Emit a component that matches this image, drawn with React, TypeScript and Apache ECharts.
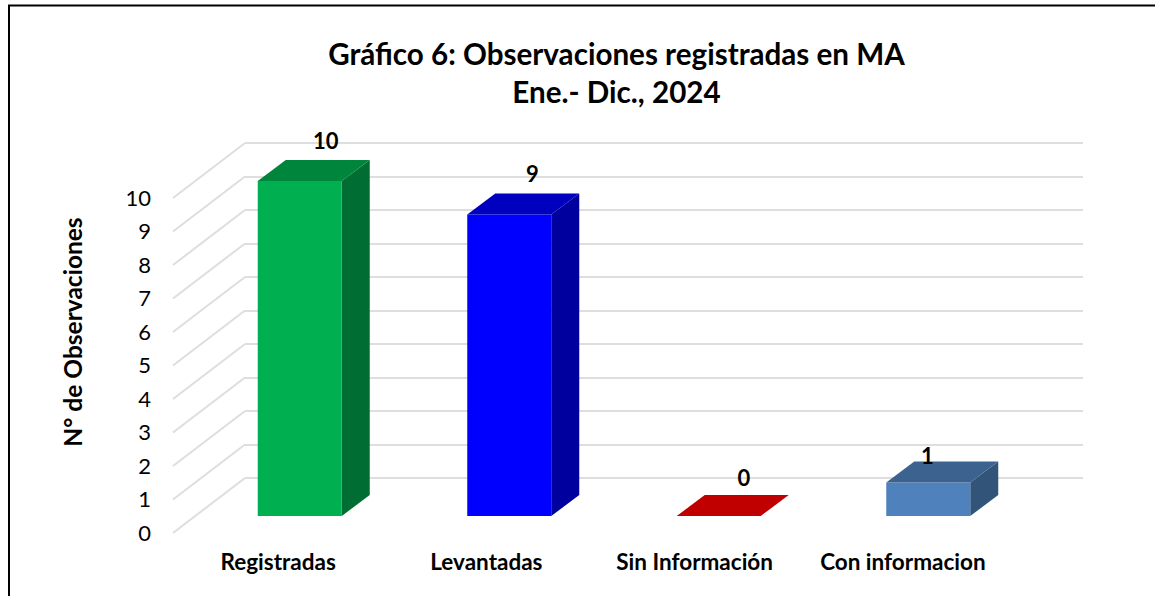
import React, { useEffect, useRef } from "react";
import * as echarts from "echarts";

const titleLines = ["Gráfico 6: Observaciones registradas en MA", "Ene.- Dic., 2024"];
const yAxisName = "N° de Observaciones";
const categories = ["Registradas", "Levantadas", "Sin Información", "Con informacion"];
const values = [10, 9, 0, 1];
const ticks = [0, 1, 2, 3, 4, 5, 6, 7, 8, 9, 10];
const frontColors = ["#00B050", "#0000FF", "#C00000", "#4F81BD"];
const topColors = ["#00853C", "#0000BF", "#C00000", "#3C6290"];
const sideColors = ["#006E33", "#00009F", "#A00000", "#325478"];
const labelShift = [[-24, -3], [-27, -3], [-25, -1], [-51, 11]];

const FONT = "Lato";
const W = 1155;
const H = 596;
const BAR_W = 84;
const FRONT_DX = -50;
const FRONT_DY = 38;
const DEPTH_X = 28;
const DEPTH_Y = 21;
const FLOOR_DX = -72;
const FLOOR_DY = 55;

export default function App() {
  const ref = useRef<HTMLDivElement>(null);
  useEffect(() => {
    const chart = echarts.init(ref.current!, undefined, { renderer: "svg" });
    chart.setOption({
      animation: false,
      backgroundColor: "#fff",
      textStyle: { fontFamily: FONT },
      title: {
        text: titleLines.join("\n"),
        left: 611.5,
        top: 29,
        textAlign: "center",
        textStyle: { fontFamily: FONT, fontSize: 29.6, fontWeight: "bold", color: "#000", lineHeight: 38 },
      },
      grid: [
        { left: 245, right: W - 1083, top: 143, bottom: H - 478 },
        { left: 174, right: W - 1007, top: 197, bottom: H - 532 },
      ],
      xAxis: [
        { type: "category", gridIndex: 0, data: categories, show: false },
        {
          type: "category",
          gridIndex: 1,
          data: categories,
          axisLine: { show: false },
          axisTick: { show: false },
          axisLabel: { margin: 18, fontFamily: FONT, fontSize: 22.5, fontWeight: "bold", color: "#000", interval: 0 },
        },
      ],
      yAxis: [
        {
          type: "value",
          gridIndex: 0,
          min: 0,
          max: 10,
          interval: 1,
          axisLine: { show: false },
          axisTick: { show: false },
          axisLabel: { show: false },
          splitLine: { show: true, lineStyle: { color: "#DEDEDE", width: 2 } },
        },
        {
          type: "value",
          gridIndex: 1,
          min: 0,
          max: 10,
          interval: 1,
          axisLine: { show: false },
          axisTick: { show: false },
          splitLine: { show: false },
          axisLabel: { margin: 23, fontFamily: FONT, fontSize: 22, color: "#000" },
        },
      ],
      graphic: [
        {
          type: "rect",
          shape: { x: 9, y: 5.5, width: 1200, height: 700 },
          style: { fill: "none", stroke: "#000", lineWidth: 2 },
          silent: true,
          z: 0,
        },
        {
          type: "text",
          x: 72,
          y: 332,
          rotation: Math.PI / 2,
          style: {
            text: yAxisName,
            fontFamily: FONT,
            fontSize: 24.5,
            fontWeight: "bold",
            fill: "#000",
            align: "center",
            verticalAlign: "middle",
          },
          z: 5,
        },
      ],
      series: [
        {
          type: "custom",
          name: "floor",
          xAxisIndex: 0,
          yAxisIndex: 0,
          coordinateSystem: "cartesian2d",
          data: ticks.map((t) => [0, t]),
          silent: true,
          z: 1,
          renderItem: (params: any, api: any) => {
            const p = api.coord([0, api.value(1)]);
            const x0 = params.coordSys.x;
            return {
              type: "line",
              shape: { x1: x0, y1: p[1], x2: x0 + FLOOR_DX, y2: p[1] + FLOOR_DY },
              style: { stroke: "#DEDEDE", lineWidth: 2, fill: "none" },
            };
          },
        },
        {
          type: "custom",
          name: "Observaciones",
          xAxisIndex: 0,
          yAxisIndex: 0,
          coordinateSystem: "cartesian2d",
          data: values.map((v, i) => [i, v]),
          clip: false,
          silent: true,
          z: 3,
          renderItem: (params: any, api: any) => {
            const i = params.dataIndex;
            const v = api.value(1);
            const top = api.coord([i, v]);
            const base = api.coord([i, 0]);
            const l = top[0] + FRONT_DX - BAR_W / 2;
            const r = l + BAR_W;
            const t = top[1] + FRONT_DY;
            const b = base[1] + FRONT_DY;
            const children: any[] = [];
            if (v > 0) {
              children.push({
                type: "polygon",
                shape: { points: [[r, t], [r + DEPTH_X, t - DEPTH_Y], [r + DEPTH_X, b - DEPTH_Y], [r, b]] },
                style: { fill: sideColors[i] },
              });
              children.push({
                type: "rect",
                shape: { x: l, y: t, width: BAR_W, height: b - t },
                style: { fill: frontColors[i] },
              });
            }
            children.push({
              type: "polygon",
              shape: { points: [[l, t], [l + DEPTH_X, t - DEPTH_Y], [r + DEPTH_X, t - DEPTH_Y], [r, t]] },
              style: { fill: topColors[i] },
            });
            children.push({
              type: "text",
              x: top[0] + labelShift[i][0],
              y: top[1] + labelShift[i][1],
              style: {
                text: String(v),
                fontFamily: FONT,
                fontSize: 22,
                fontWeight: "bold",
                fill: "#000",
                align: "center",
                verticalAlign: "middle",
              },
            });
            return { type: "group", children };
          },
        },
      ],
    });
    return () => chart.dispose();
  }, []);
  return <div ref={ref} style={{ position: "absolute", left: 0, top: 0, width: W, height: H }} />;
}
